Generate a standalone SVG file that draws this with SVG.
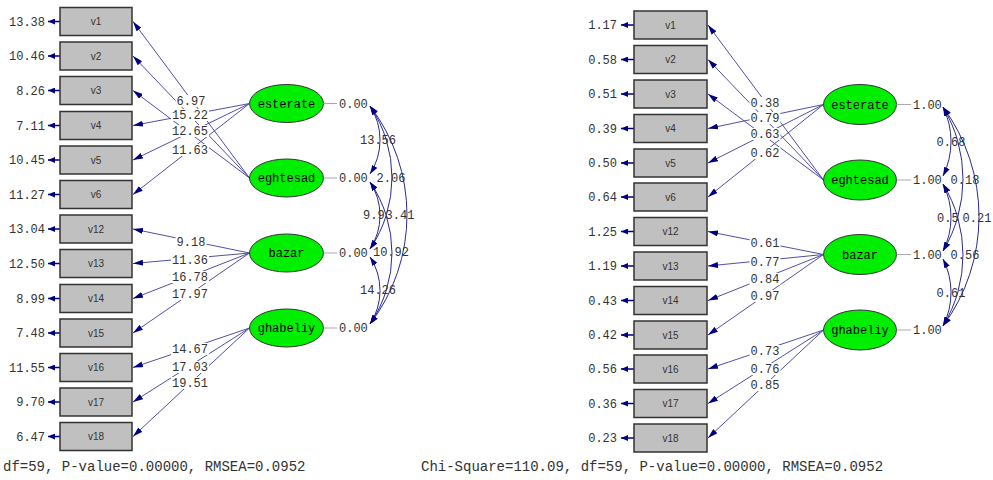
<svg xmlns="http://www.w3.org/2000/svg" width="993" height="480" viewBox="0 0 993 480">
<defs>
<style>
.box{fill:#c0c0c0;stroke:#333;stroke-width:1.5}
.bt{font-family:"Liberation Sans",Arial,sans-serif;font-size:10px;fill:#333;text-anchor:middle}
.num{font-family:"Liberation Mono","Courier New",monospace;font-size:12px;fill:#333}
.ne{text-anchor:end}
.nm{text-anchor:middle}
.lat{fill:#00ee00;stroke:#333;stroke-width:1}
.lt{font-family:"Liberation Mono","Courier New",monospace;font-size:12px;fill:#000;text-anchor:middle}
.ld{stroke:#5050a8;stroke-width:1;fill:none;marker-end:url(#ah)}
.err{stroke:#000080;stroke-width:1.5;fill:none;marker-end:url(#eh)}
.var{stroke:#aaa;stroke-width:1}
.cov{stroke:#2a2a90;stroke-width:1;fill:none;marker-start:url(#ch);marker-end:url(#ch)}
.bg{fill:#fff}
.foot{font-family:"Liberation Mono","Courier New",monospace;font-size:14px;fill:#333}
</style>
<marker id="ah" viewBox="0 0 10 6" refX="10" refY="3" markerWidth="10" markerHeight="6" orient="auto" markerUnits="userSpaceOnUse"><path d="M0,0L10,3L0,6z" fill="#000080"/></marker>
<marker id="eh" viewBox="0 0 7 6" refX="7" refY="3" markerWidth="7" markerHeight="6" orient="auto" markerUnits="userSpaceOnUse"><path d="M0,3L7,0L7,6z" transform="rotate(180 3.5 3)" fill="#000080"/></marker>
<marker id="ch" viewBox="0 0 9 6" refX="9" refY="3" markerWidth="9" markerHeight="6" orient="auto-start-reverse" markerUnits="userSpaceOnUse"><path d="M0,0L9,3L0,6z" fill="#000080"/></marker>
</defs>
<rect width="993" height="480" fill="#fff"/>

<!-- LEFT PANEL connectors -->
<g id="connectors-left">
<path class="ld" d="M249.5,178L133,21.5"/>
<path class="ld" d="M249.5,178L133,56"/>
<path class="ld" d="M249.5,178L133,90.5"/>
<path class="ld" d="M249.5,103.5L133,125.5"/>
<path class="ld" d="M249.5,103.5L133,160"/>
<path class="ld" d="M249.5,103.5L133,194.5"/>
<path class="ld" d="M249.5,253L133,229"/>
<path class="ld" d="M249.5,253L133,263.5"/>
<path class="ld" d="M249.5,253L133,298.5"/>
<path class="ld" d="M249.5,253L133,333"/>
<path class="ld" d="M249.5,328L133,367.5"/>
<path class="ld" d="M249.5,328L133,402"/>
<path class="ld" d="M249.5,328L133,436.5"/>
<path class="cov" d="M370,106A62.8,62.8 0 0 1 370,174"/>
<path class="cov" d="M370,182A61.1,61.1 0 0 1 370,249"/>
<path class="cov" d="M370,257A61.1,61.1 0 0 1 370,324"/>
<path class="cov" d="M370,106A127.2,127.2 0 0 1 370,249"/>
<path class="cov" d="M370,182A125.6,125.6 0 0 1 370,324"/>
<path class="cov" d="M370,106A179.1,179.1 0 0 1 370,324"/>
</g>
<g id="labels-left">
<rect class="bg" x="175.6" y="95" width="30.8" height="12"/><text class="num nm" x="191" y="105">6.97</text>
<rect class="bg" x="171" y="109" width="38" height="12"/><text class="num nm" x="190" y="119">15.22</text>
<rect class="bg" x="171" y="125" width="38" height="12"/><text class="num nm" x="190" y="135">12.65</text>
<rect class="bg" x="171" y="144" width="38" height="12"/><text class="num nm" x="190" y="154">11.63</text>
<rect class="bg" x="175.6" y="236" width="30.8" height="12"/><text class="num nm" x="191" y="246">9.18</text>
<rect class="bg" x="171" y="254" width="38" height="12"/><text class="num nm" x="190" y="264">11.36</text>
<rect class="bg" x="171" y="271" width="38" height="12"/><text class="num nm" x="190" y="281">16.78</text>
<rect class="bg" x="171" y="288" width="38" height="12"/><text class="num nm" x="190" y="298">17.97</text>
<rect class="bg" x="171" y="343" width="38" height="12"/><text class="num nm" x="190" y="353">14.67</text>
<rect class="bg" x="171" y="361" width="38" height="12"/><text class="num nm" x="190" y="371">17.03</text>
<rect class="bg" x="171" y="377" width="38" height="12"/><text class="num nm" x="190" y="387">19.51</text>
<text class="num nm" x="378" y="144">13.56</text>
<text class="num" x="363" y="219">9.9</text>
<text class="num nm" x="378" y="294">14.26</text>
<text class="num nm" x="391" y="182">2.06</text>
<text class="num nm" x="391" y="256">10.92</text>
<text class="num nm" x="400" y="219">3.41</text>
</g>

<g id="L-v1"><path class="err" d="M60,21.5H48"/><text class="num ne" x="45" y="25.5">13.38</text><rect class="box" x="60" y="7.5" width="72" height="28"/><text class="bt" x="96" y="25">v1</text></g>
<g id="L-v2"><path class="err" d="M60,56H48"/><text class="num ne" x="45" y="60">10.46</text><rect class="box" x="60" y="42" width="72" height="28"/><text class="bt" x="96" y="59.5">v2</text></g>
<g id="L-v3"><path class="err" d="M60,90.5H48"/><text class="num ne" x="45" y="94.5">8.26</text><rect class="box" x="60" y="76.5" width="72" height="28"/><text class="bt" x="96" y="94">v3</text></g>
<g id="L-v4"><path class="err" d="M60,125.5H48"/><text class="num ne" x="45" y="129.5">7.11</text><rect class="box" x="60" y="111.5" width="72" height="28"/><text class="bt" x="96" y="129">v4</text></g>
<g id="L-v5"><path class="err" d="M60,160H48"/><text class="num ne" x="45" y="164">10.45</text><rect class="box" x="60" y="146" width="72" height="28"/><text class="bt" x="96" y="163.5">v5</text></g>
<g id="L-v6"><path class="err" d="M60,194.5H48"/><text class="num ne" x="45" y="198.5">11.27</text><rect class="box" x="60" y="180.5" width="72" height="28"/><text class="bt" x="96" y="198">v6</text></g>
<g id="L-v12"><path class="err" d="M60,229H48"/><text class="num ne" x="45" y="233">13.04</text><rect class="box" x="60" y="215" width="72" height="28"/><text class="bt" x="96" y="232.5">v12</text></g>
<g id="L-v13"><path class="err" d="M60,263.5H48"/><text class="num ne" x="45" y="267.5">12.50</text><rect class="box" x="60" y="249.5" width="72" height="28"/><text class="bt" x="96" y="267">v13</text></g>
<g id="L-v14"><path class="err" d="M60,298.5H48"/><text class="num ne" x="45" y="302.5">8.99</text><rect class="box" x="60" y="284.5" width="72" height="28"/><text class="bt" x="96" y="302">v14</text></g>
<g id="L-v15"><path class="err" d="M60,333H48"/><text class="num ne" x="45" y="337">7.48</text><rect class="box" x="60" y="319" width="72" height="28"/><text class="bt" x="96" y="336.5">v15</text></g>
<g id="L-v16"><path class="err" d="M60,367.5H48"/><text class="num ne" x="45" y="371.5">11.55</text><rect class="box" x="60" y="353.5" width="72" height="28"/><text class="bt" x="96" y="371">v16</text></g>
<g id="L-v17"><path class="err" d="M60,402H48"/><text class="num ne" x="45" y="406">9.70</text><rect class="box" x="60" y="388" width="72" height="28"/><text class="bt" x="96" y="405.5">v17</text></g>
<g id="L-v18"><path class="err" d="M60,436.5H48"/><text class="num ne" x="45" y="440.5">6.47</text><rect class="box" x="60" y="422.5" width="72" height="28"/><text class="bt" x="96" y="440">v18</text></g>

<g id="L-esterate"><ellipse class="lat" cx="286.5" cy="103.5" rx="37" ry="19"/><text class="lt" x="286.5" y="107.5">esterate</text><path class="var" d="M323.5,103.5H337"/><text class="num" x="339" y="107.5">0.00</text></g>
<g id="L-eghtesad"><ellipse class="lat" cx="286.5" cy="178" rx="37" ry="19"/><text class="lt" x="286.5" y="182">eghtesad</text><path class="var" d="M323.5,178H337"/><text class="num" x="339" y="182">0.00</text></g>
<g id="L-bazar"><ellipse class="lat" cx="286.5" cy="253" rx="37" ry="19"/><text class="lt" x="286.5" y="257">bazar</text><path class="var" d="M323.5,253H337"/><text class="num" x="339" y="257">0.00</text></g>
<g id="L-ghabeliy"><ellipse class="lat" cx="286.5" cy="328" rx="37" ry="19"/><text class="lt" x="286.5" y="332">ghabeliy</text><path class="var" d="M323.5,328H337"/><text class="num" x="339" y="332">0.00</text></g>

<text class="foot" x="3" y="471">df=59, P-value=0.00000, RMSEA=0.0952</text>

<!-- RIGHT PANEL connectors -->
<g id="connectors-right">
<path class="ld" d="M823.5,180L708,25"/>
<path class="ld" d="M823.5,180L708,59.5"/>
<path class="ld" d="M823.5,180L708,94"/>
<path class="ld" d="M823.5,104.5L708,128.5"/>
<path class="ld" d="M823.5,104.5L708,163"/>
<path class="ld" d="M823.5,104.5L708,197"/>
<path class="ld" d="M823.5,254.5L708,231.5"/>
<path class="ld" d="M823.5,254.5L708,266"/>
<path class="ld" d="M823.5,254.5L708,300.5"/>
<path class="ld" d="M823.5,254.5L708,335"/>
<path class="ld" d="M823.5,330L708,369"/>
<path class="ld" d="M823.5,330L708,403.5"/>
<path class="ld" d="M823.5,330L708,438"/>
<path class="cov" d="M943,107A78.4,78.4 0 0 1 943,176"/>
<path class="cov" d="M943,184A74.1,74.1 0 0 1 943,251"/>
<path class="cov" d="M943,259A74.1,74.1 0 0 1 943,326"/>
<path class="cov" d="M943,107A139.6,139.6 0 0 1 943,251"/>
<path class="cov" d="M943,184A136,136 0 0 1 943,326"/>
<path class="cov" d="M943,107A184.5,184.5 0 0 1 943,326"/>
</g>
<g id="labels-right">
<rect class="bg" x="749.6" y="97" width="30.8" height="12"/><text class="num nm" x="765" y="107">0.38</text>
<rect class="bg" x="749.6" y="112" width="30.8" height="12"/><text class="num nm" x="765" y="122">0.79</text>
<rect class="bg" x="749.6" y="128" width="30.8" height="12"/><text class="num nm" x="765" y="138">0.63</text>
<rect class="bg" x="749.6" y="147" width="30.8" height="12"/><text class="num nm" x="765" y="157">0.62</text>
<rect class="bg" x="749.6" y="237" width="30.8" height="12"/><text class="num nm" x="765" y="247">0.61</text>
<rect class="bg" x="749.6" y="256" width="30.8" height="12"/><text class="num nm" x="765" y="266">0.77</text>
<rect class="bg" x="749.6" y="273" width="30.8" height="12"/><text class="num nm" x="765" y="283">0.84</text>
<rect class="bg" x="749.6" y="290" width="30.8" height="12"/><text class="num nm" x="765" y="300">0.97</text>
<rect class="bg" x="749.6" y="345" width="30.8" height="12"/><text class="num nm" x="765" y="355">0.73</text>
<rect class="bg" x="749.6" y="363" width="30.8" height="12"/><text class="num nm" x="765" y="373">0.76</text>
<rect class="bg" x="749.6" y="379" width="30.8" height="12"/><text class="num nm" x="765" y="389">0.85</text>
<text class="num nm" x="951" y="146">0.68</text>
<text class="num" x="937" y="222">0.5</text>
<text class="num nm" x="951" y="297">0.61</text>
<text class="num nm" x="965" y="184">0.18</text>
<text class="num nm" x="965" y="259">0.56</text>
<text class="num nm" x="977" y="222">0.21</text>
</g>

<g id="R-v1"><path class="err" d="M634,25H621"/><text class="num ne" x="617" y="29">1.17</text><rect class="box" x="634" y="11" width="73" height="28"/><text class="bt" x="670.5" y="28.5">v1</text></g>
<g id="R-v2"><path class="err" d="M634,59.5H621"/><text class="num ne" x="617" y="63.5">0.58</text><rect class="box" x="634" y="45.5" width="73" height="28"/><text class="bt" x="670.5" y="63">v2</text></g>
<g id="R-v3"><path class="err" d="M634,94H621"/><text class="num ne" x="617" y="98">0.51</text><rect class="box" x="634" y="80" width="73" height="28"/><text class="bt" x="670.5" y="97.5">v3</text></g>
<g id="R-v4"><path class="err" d="M634,128.5H621"/><text class="num ne" x="617" y="132.5">0.39</text><rect class="box" x="634" y="114.5" width="73" height="28"/><text class="bt" x="670.5" y="132">v4</text></g>
<g id="R-v5"><path class="err" d="M634,163H621"/><text class="num ne" x="617" y="167">0.50</text><rect class="box" x="634" y="149" width="73" height="28"/><text class="bt" x="670.5" y="166.5">v5</text></g>
<g id="R-v6"><path class="err" d="M634,197H621"/><text class="num ne" x="617" y="201">0.64</text><rect class="box" x="634" y="183" width="73" height="28"/><text class="bt" x="670.5" y="200.5">v6</text></g>
<g id="R-v12"><path class="err" d="M634,231.5H621"/><text class="num ne" x="617" y="235.5">1.25</text><rect class="box" x="634" y="217.5" width="73" height="28"/><text class="bt" x="670.5" y="235">v12</text></g>
<g id="R-v13"><path class="err" d="M634,266H621"/><text class="num ne" x="617" y="270">1.19</text><rect class="box" x="634" y="252" width="73" height="28"/><text class="bt" x="670.5" y="269.5">v13</text></g>
<g id="R-v14"><path class="err" d="M634,300.5H621"/><text class="num ne" x="617" y="304.5">0.43</text><rect class="box" x="634" y="286.5" width="73" height="28"/><text class="bt" x="670.5" y="304">v14</text></g>
<g id="R-v15"><path class="err" d="M634,335H621"/><text class="num ne" x="617" y="339">0.42</text><rect class="box" x="634" y="321" width="73" height="28"/><text class="bt" x="670.5" y="338.5">v15</text></g>
<g id="R-v16"><path class="err" d="M634,369H621"/><text class="num ne" x="617" y="373">0.56</text><rect class="box" x="634" y="355" width="73" height="28"/><text class="bt" x="670.5" y="372.5">v16</text></g>
<g id="R-v17"><path class="err" d="M634,403.5H621"/><text class="num ne" x="617" y="407.5">0.36</text><rect class="box" x="634" y="389.5" width="73" height="28"/><text class="bt" x="670.5" y="407">v17</text></g>
<g id="R-v18"><path class="err" d="M634,438H621"/><text class="num ne" x="617" y="442">0.23</text><rect class="box" x="634" y="424" width="73" height="28"/><text class="bt" x="670.5" y="441.5">v18</text></g>

<g id="R-esterate"><ellipse class="lat" cx="860" cy="104.5" rx="36.5" ry="20"/><text class="lt" x="860" y="108.5">esterate</text><path class="var" d="M896.5,104.5H911"/><text class="num" x="913" y="108.5">1.00</text></g>
<g id="R-eghtesad"><ellipse class="lat" cx="860" cy="180" rx="36.5" ry="20"/><text class="lt" x="860" y="184">eghtesad</text><path class="var" d="M896.5,180H911"/><text class="num" x="913" y="184">1.00</text></g>
<g id="R-bazar"><ellipse class="lat" cx="860" cy="254.5" rx="36.5" ry="20"/><text class="lt" x="860" y="258.5">bazar</text><path class="var" d="M896.5,254.5H911"/><text class="num" x="913" y="258.5">1.00</text></g>
<g id="R-ghabeliy"><ellipse class="lat" cx="860" cy="330" rx="36.5" ry="20"/><text class="lt" x="860" y="334">ghabeliy</text><path class="var" d="M896.5,330H911"/><text class="num" x="913" y="334">1.00</text></g>

<text class="foot" x="421" y="471">Chi-Square=110.09, df=59, P-value=0.00000, RMSEA=0.0952</text>
</svg>
